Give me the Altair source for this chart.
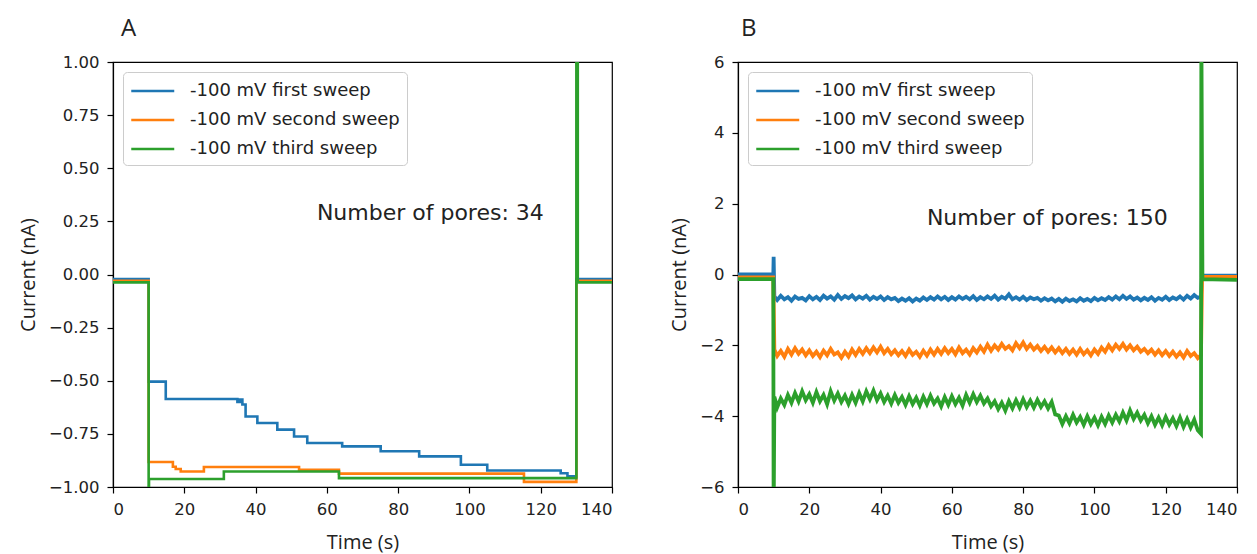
import altair as alt
import pandas as pd

sweeps = ["-100 mV first sweep", "-100 mV second sweep", "-100 mV third sweep"]
colors = ["#1f77b4", "#ff7f0e", "#2ca02c"]
x_ticks = [0, 20, 40, 60, 80, 100, 120, 140]
ya_ticks = [-1.0, -0.75, -0.5, -0.25, 0.0, 0.25, 0.5, 0.75, 1.0]
yb_ticks = [-6, -4, -2, 0, 2, 4, 6]

# ---------- Panel A (step traces, 34 pores) ----------
a1_t = [0, 10, 14.8, 34.9, 35.6, 36.3, 37.2, 40.5, 46.1, 50.8, 54.5, 64.3, 75.1,
        85.9, 97.6, 105.0, 125.6, 127.5, 130.0, 140]
a1_v = [-0.021, -0.504, -0.586, -0.600, -0.588, -0.612, -0.668, -0.699, -0.730,
        -0.762, -0.793, -0.809, -0.832, -0.856, -0.895, -0.922, -0.935, -0.950,
        -0.021, -0.021]
a2_t = [0, 10, 16.8, 17.6, 19.0, 25.5, 52.2, 63.4, 115.3, 130.0, 140]
a2_v = [-0.030, -0.882, -0.905, -0.915, -0.927, -0.906, -0.919, -0.937, -0.976,
        -0.030, -0.030]
a3_t = [0, 10, 10.1, 31.1, 63.4, 130.0, 130.4, 140]
a3_v = [-0.037, -1.5, -0.962, -0.927, -0.958, 1.5, -0.037, -0.037]

# ---------- Panel B (noisy traces, 150 pores) ----------
b_pre_t = [0, 9.9]
b_noise_t = [10.2] + list(range(11, 130)) + [129.9]
b1_pre = [0.0, 0.0]
b1_spike = 0.5
b1_noise = [
    -0.62, -0.72, -0.60, -0.70, -0.64, -0.74, -0.62, -0.69, -0.66, -0.73,
    -0.61, -0.70, -0.63, -0.72, -0.60, -0.68, -0.62, -0.71, -0.58, -0.69,
    -0.61, -0.67, -0.59, -0.70, -0.62, -0.68, -0.60, -0.71, -0.63, -0.69,
    -0.62, -0.72, -0.64, -0.70, -0.66, -0.75, -0.68, -0.74, -0.67, -0.76,
    -0.68, -0.74, -0.65, -0.72, -0.64, -0.71, -0.62, -0.70, -0.63, -0.72,
    -0.64, -0.71, -0.62, -0.69, -0.63, -0.70, -0.61, -0.72, -0.64, -0.70,
    -0.62, -0.69, -0.60, -0.71, -0.63, -0.68, -0.56, -0.70, -0.64, -0.71,
    -0.63, -0.72, -0.65, -0.70, -0.66, -0.74, -0.67, -0.73, -0.68, -0.76,
    -0.69, -0.77, -0.68, -0.75, -0.70, -0.76, -0.67, -0.74, -0.69, -0.75,
    -0.66, -0.73, -0.67, -0.72, -0.64, -0.71, -0.62, -0.70, -0.60, -0.69,
    -0.62, -0.71, -0.65, -0.73, -0.66, -0.72, -0.64, -0.74, -0.66, -0.71,
    -0.63, -0.72, -0.65, -0.70, -0.62, -0.71, -0.60, -0.68, -0.58, -0.66,
    -0.62]
b1_post = [-0.03, -0.03]
b2_pre = [-0.08, -0.08]
b2_noise = [
    -2.12, -2.30, -2.16, -2.32, -2.10, -2.26, -2.08, -2.24, -2.12, -2.28,
    -2.14, -2.30, -2.18, -2.33, -2.15, -2.28, -2.10, -2.26, -2.20, -2.35,
    -2.18, -2.32, -2.12, -2.27, -2.10, -2.24, -2.08, -2.22, -2.06, -2.20,
    -2.04, -2.22, -2.10, -2.25, -2.14, -2.28, -2.16, -2.30, -2.12, -2.27,
    -2.18, -2.32, -2.15, -2.29, -2.12, -2.26, -2.10, -2.24, -2.08, -2.22,
    -2.10, -2.25, -2.06, -2.22, -2.12, -2.26, -2.08, -2.20, -2.04, -2.18,
    -1.98, -2.15, -2.00, -2.12, -1.96, -2.10, -2.02, -2.14, -1.94, -2.08,
    -1.92, -2.10, -1.98, -2.12, -2.02, -2.16, -2.04, -2.18, -2.06, -2.20,
    -2.08, -2.22, -2.10, -2.24, -2.12, -2.26, -2.10, -2.25, -2.14, -2.28,
    -2.12, -2.24, -2.06, -2.18, -2.00, -2.14, -1.98, -2.10, -1.96, -2.12,
    -2.00, -2.14, -2.04, -2.18, -2.10, -2.22, -2.12, -2.26, -2.14, -2.28,
    -2.16, -2.30, -2.18, -2.32, -2.20, -2.34, -2.16, -2.30, -2.22, -2.36,
    -2.28]
b2_post = [-0.07, -0.07]
b3_pre = [-0.13, -0.13]
b3_noise = [
    -3.45, -3.75, -3.50, -3.68, -3.40, -3.62, -3.35, -3.58, -3.30, -3.55,
    -3.38, -3.62, -3.32, -3.58, -3.40, -3.66, -3.30, -3.56, -3.36, -3.60,
    -3.42, -3.65, -3.40, -3.62, -3.35, -3.58, -3.30, -3.52, -3.28, -3.55,
    -3.36, -3.60, -3.42, -3.64, -3.40, -3.62, -3.46, -3.68, -3.44, -3.66,
    -3.48, -3.70, -3.45, -3.66, -3.42, -3.64, -3.50, -3.72, -3.46, -3.68,
    -3.44, -3.66, -3.48, -3.70, -3.40, -3.62, -3.38, -3.60, -3.42, -3.64,
    -3.50, -3.72, -3.58, -3.80, -3.62, -3.84, -3.58, -3.78, -3.55, -3.76,
    -3.52, -3.74, -3.56, -3.76, -3.54, -3.74, -3.58, -3.78, -3.60, -3.95,
    -3.98, -4.22, -4.00, -4.20, -3.96, -4.18, -4.02, -4.24, -4.00, -4.22,
    -4.04, -4.26, -4.02, -4.22, -3.98, -4.18, -3.96, -4.15, -3.90, -4.12,
    -3.84, -4.08, -3.90, -4.12, -3.96, -4.20, -4.00, -4.24, -4.04, -4.26,
    -4.02, -4.24, -4.06, -4.28, -4.04, -4.30, -4.08, -4.32, -4.10, -4.40,
    -4.50]
b3_post = [-0.13, -0.15]
b_spike_low = -7.0
b_spike_high = 7.0

ann_a = {"x": [57.2], "y": [0.29], "label": ["Number of pores: 34"]}
ann_b = {"x": [53.0], "y": [1.59], "label": ["Number of pores: 150"]}


def frame(name, ts, vs):
    return pd.DataFrame({"t": ts, "v": vs, "sweep": name,
                         "idx": list(range(len(ts)))})


dfA = pd.concat([frame(sweeps[0], a1_t, a1_v),
                 frame(sweeps[1], a2_t, a2_v),
                 frame(sweeps[2], a3_t, a3_v)], ignore_index=True)

b1_t = b_pre_t + [10.0] + b_noise_t + [130.2, 140]
b1_v = b1_pre + [b1_spike] + b1_noise + b1_post
b2_t = b_pre_t + b_noise_t + [130.2, 140]
b2_v = b2_pre + b2_noise + b2_post
b3_t = b_pre_t + [10.0] + b_noise_t + [130.0, 130.3, 140]
b3_v = b3_pre + [b_spike_low] + b3_noise + [b_spike_high] + b3_post
dfB = pd.concat([frame(sweeps[0], b1_t, b1_v),
                 frame(sweeps[1], b2_t, b2_v),
                 frame(sweeps[2], b3_t, b3_v)], ignore_index=True)

TICK_FONT = "DejaVu Sans"
TITLE_FONT = "Open Sans"


def legend():
    return alt.Legend(
        orient="top-left", title=None, offset=10,
        symbolType="M-1,0L3,0", symbolSize=462, symbolStrokeWidth=2.5,
        labelFont=TICK_FONT, labelFontSize=18, labelColor="#222222",
        labelOffset=36, rowPadding=8, padding=7,
        strokeColor="#cccccc", fillColor="white", cornerRadius=4,
        labelLimit=400,
    )


def x_enc():
    return alt.X("t:Q", scale=alt.Scale(domain=[0, 140], nice=False, zero=False),
                 axis=alt.Axis(values=x_ticks, title="Time (s)", format="d",
                               titlePadding=15))


def panel(df, ann, ydom, yticks, yfmt, letter, sw, interp, tdx):
    color = alt.Color("sweep:N", scale=alt.Scale(domain=sweeps, range=colors),
                      legend=legend())
    y = alt.Y("v:Q", scale=alt.Scale(domain=ydom, nice=False, zero=False),
              axis=alt.Axis(values=yticks, format=yfmt, title="Current (nA)"))
    lines = alt.Chart(df).mark_line(clip=True, strokeWidth=sw,
                                    interpolate=interp).encode(
        x=x_enc(), y=y, color=color, order="idx:Q")
    text = alt.Chart(pd.DataFrame(ann)).mark_text(
        align="left", baseline="middle", font=TICK_FONT, fontSize=22,
        color="#222222").encode(x="x:Q", y="y:Q", text="label:N")
    return alt.layer(lines, text).properties(
        width=499, height=425,
        title=alt.TitleParams(letter, anchor="start", frame="group",
                              font=TITLE_FONT, fontSize=24,
                              fontWeight="normal", color="#222222",
                              dx=tdx, offset=13),
    )


pA = panel(dfA, ann_a, [-1, 1], ya_ticks, ".2f", "A", 2.6, "step-after", 8)
pB = panel(dfB, ann_b, [-6, 6], yb_ticks, "d", "B", 3.8, "linear", 3)

chart = alt.hconcat(pA, pB, spacing=55).resolve_scale(
    y="independent").resolve_legend(color="independent").configure(
    padding={"left": 9, "top": 8, "right": 5, "bottom": 0},
    background="white",
).configure_view(
    stroke="black", strokeWidth=1.2,
).configure_axis(
    grid=False, domainColor="black", tickColor="black", tickSize=6,
    domainWidth=1.2, tickWidth=1.2,
    labelFont=TICK_FONT, labelFontSize=16.5, labelColor="#222222",
    labelPadding=8, titleFont=TITLE_FONT, titleFontSize=20,
    titleFontWeight="normal", titleColor="#222222", titlePadding=10,
)

chart.save("out.html", embed_options={"renderer": "svg", "actions": False})
